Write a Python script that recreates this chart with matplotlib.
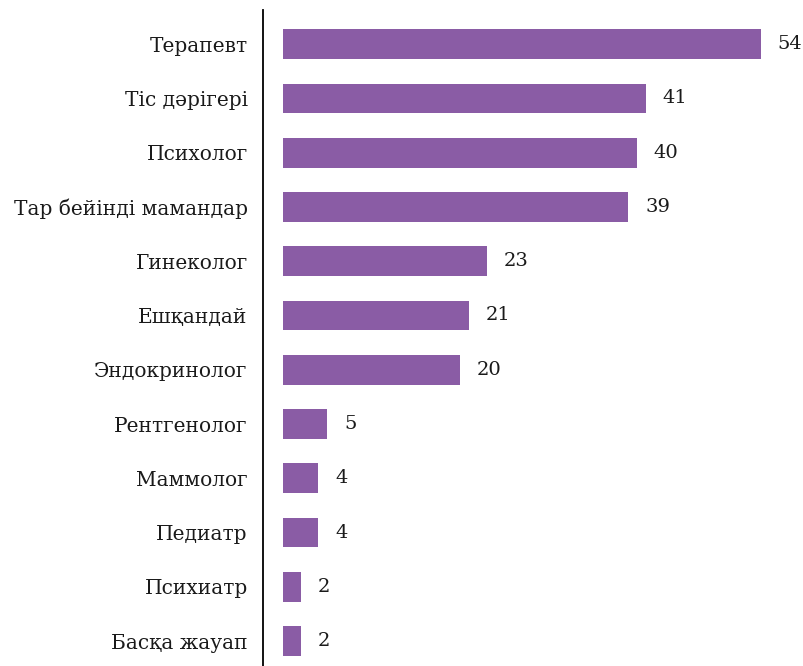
import matplotlib.pyplot as plt

categories = ['Терапевт', 'Тіс дәрігері', 'Психолог', 'Тар бейінді мамандар',
              'Гинеколог', 'Ешқандай', 'Эндокринолог', 'Рентгенолог',
              'Маммолог', 'Педиатр', 'Психиатр', 'Басқа жауап']
values = [54, 41, 40, 39, 23, 21, 20, 5, 4, 4, 2, 2]

plt.rcParams['font.family'] = ['DejaVu Serif']

fig = plt.figure(figsize=(8.04, 6.66), dpi=100)
ax = fig.add_axes([263 / 804, 0, 537 / 804, 656 / 666])

pos = list(range(len(categories)))
ax.barh(pos, values, height=0.55, color='#8a5ca5')

for p, v in zip(pos, values):
    ax.text(v + 1.9, p, str(v), va='center', ha='left', fontsize=14, color='#1a1a1a')

ax.set_yticks(pos)
ax.set_yticklabels(categories, fontsize=14.5, color='#1a1a1a')
ax.tick_params(axis='y', length=0, pad=11)
ax.set_xticks([])
ax.set_xlim(-2.26, 58.4)
ax.set_ylim(len(categories) - 1 + 0.46, -0.63)

for s in ['top', 'right', 'bottom']:
    ax.spines[s].set_visible(False)
ax.spines['left'].set_linewidth(1.3)

fig.savefig('out.png', dpi=100)
